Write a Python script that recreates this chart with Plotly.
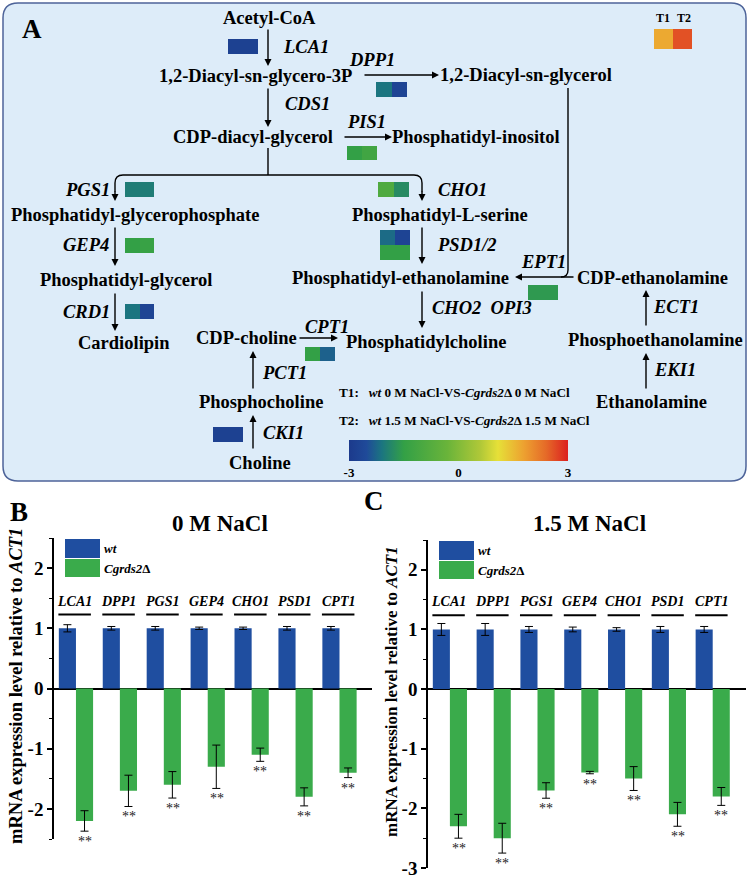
import plotly.graph_objects as go

W, H = 750, 879
FONT = "Liberation Serif"

# ---------------- data ----------------
genes = ["LCA1", "DPP1", "PGS1", "GEP4", "CHO1", "PSD1", "CPT1"]
b_wt = [1.0, 1.0, 1.0, 1.0, 1.0, 1.0, 1.0]
b_wt_err = [0.06, 0.03, 0.03, 0.02, 0.02, 0.03, 0.03]
b_mut = [-2.2, -1.7, -1.6, -1.3, -1.1, -1.8, -1.4]
b_mut_err = [0.17, 0.26, 0.22, 0.36, 0.11, 0.15, 0.08]
c_wt = [1.0, 1.0, 1.0, 1.0, 1.0, 1.0, 1.0]
c_wt_err = [0.1, 0.1, 0.05, 0.04, 0.03, 0.05, 0.05]
c_mut = [-2.3, -2.5, -1.7, -1.4, -1.5, -2.1, -1.8]
c_mut_err = [0.2, 0.25, 0.13, 0.02, 0.2, 0.2, 0.15]

heat_genes = ["LCA1", "DPP1", "PIS1", "PGS1", "CHO1", "GEP4", "CRD1",
              "PSD1", "PSD2", "CPT1", "CKI1", "EPT1"]
heat_t1 = [-2.8, -2.1, -1.5, -2.0, -0.9, -1.5, -2.1, -2.2, -1.5, -1.5, -2.8, -1.6]
heat_t2 = [-2.8, -2.7, -1.2, -2.0, -1.8, -1.4, -2.7, -2.7, -1.5, -2.3, -2.8, -1.6]
legend_t = [1.7, 2.6]
cbar_ticks = [-3, 0, 3]
yticks_b = [-2, -1, 0, 1, 2]
yticks_c = [-3, -2, -1, 0, 1, 2]

colorscale = [
    [0.0, "#1c3a8c"], [0.08, "#1f4a99"], [0.15, "#1b7580"], [0.25, "#33a046"],
    [0.45, "#6ab43a"], [0.6, "#b0c838"], [0.68, "#e6e038"], [0.8, "#eda030"],
    [0.9, "#e56a28"], [1.0, "#dc2020"],
]

WT_COLOR = "#1f4ea0"
MUT_COLOR = "#3aab4b"

fig = go.Figure()

# ---------------- bar panels ----------------
def add_bars(xa, ya, wt, wte, mut, mute):
    fig.add_trace(go.Bar(x=genes, y=wt, name="wt", marker_color=WT_COLOR,
                         marker_line_width=0, xaxis=xa, yaxis=ya, showlegend=False,
                         error_y=dict(type="data", array=wte, color="black",
                                      thickness=1, width=4)))
    fig.add_trace(go.Bar(x=genes, y=mut, name="Cgrds2Δ", marker_color=MUT_COLOR,
                         marker_line_width=0, xaxis=xa, yaxis=ya, showlegend=False,
                         error_y=dict(type="data", array=mute, color="black",
                                      thickness=1, width=4)))

add_bars("x", "y", b_wt, b_wt_err, b_mut, b_mut_err)
add_bars("x2", "y2", c_wt, c_wt_err, c_mut, c_mut_err)

# ---------------- heatmap cells (panel A) ----------------
cell_pos = {  # left, top, width, height (pixels)
    "LCA1": (228, 39, 30, 15), "DPP1": (376, 82, 31, 15), "PIS1": (347, 146, 30, 14),
    "PGS1": (125, 182, 29, 15), "CHO1": (378, 182, 31, 15), "GEP4": (125, 238, 29, 15),
    "CRD1": (125, 304, 29, 15), "PSD1": (380, 230, 30, 15), "PSD2": (380, 245, 30, 15),
    "CPT1": (305, 347, 30, 14), "CKI1": (213, 427, 30, 15), "EPT1": (528, 285, 30, 15),
}
for g, t1, t2 in zip(heat_genes, heat_t1, heat_t2):
    l, t, w, h = cell_pos[g]
    fig.add_trace(go.Heatmap(z=[[t1, t2]], x=[l, l + w / 2, l + w], y=[t, t + h],
                             coloraxis="coloraxis", xaxis="x3", yaxis="y3",
                             hoverinfo="skip"))
fig.add_trace(go.Heatmap(z=[legend_t], x=[654, 673, 692], y=[29, 49],
                         coloraxis="coloraxis", xaxis="x3", yaxis="y3", hoverinfo="skip"))

shapes = []
ann = []

# panel A rounded box
shapes.append(dict(type="path", xref="x3", yref="y3", layer="below",
                   path="M 18,3 L 731,3 Q 746,3 746,18 L 746,466 Q 746,481 731,481 "
                        "L 18,481 Q 3,481 3,466 L 3,18 Q 3,3 18,3 Z",
                   fillcolor="#ddecf9", line=dict(color="#4d6399", width=1.5)))

def txt(s, x, y, size=18.5, italic=False, anchor="center", **kw):
    s = f"<i>{s}</i>" if italic else s
    ann.append(dict(text=f"<b>{s}</b>", x=x, y=y, xref="x3", yref="y3", showarrow=False,
                    xanchor=anchor, yanchor="middle", borderpad=0,
                    font=dict(family=FONT, size=size, color="black"), **kw))

nodes = [
    ("Acetyl-CoA", 269, 18), ("1,2-Diacyl-sn-glycero-3P", 255, 76),
    ("CDP-diacyl-glycerol", 253, 137), ("1,2-Diacyl-sn-glycerol", 526, 75),
    ("Phosphatidyl-inositol", 476, 137), ("Phosphatidyl-glycerophosphate", 135, 215),
    ("Phosphatidyl-L-serine", 440, 215), ("Phosphatidyl-glycerol", 126, 280),
    ("Phosphatidyl-ethanolamine", 400, 278), ("CDP-ethanolamine", 652, 278),
    ("Cardiolipin", 124, 343), ("CDP-choline", 246, 338),
    ("Phosphatidylcholine", 426, 342), ("Phosphoethanolamine", 655, 340),
    ("Phosphocholine", 261, 402), ("Ethanolamine", 651, 402), ("Choline", 260, 463),
]
for s, x, y in nodes:
    txt(s, x, y)

gene_lbls = [
    ("LCA1", 306, 47), ("DPP1", 372, 60), ("CDS1", 307, 104), ("PIS1", 366, 122),
    ("PGS1", 87, 190), ("CHO1", 462, 190), ("GEP4", 86, 245), ("CRD1", 86, 312),
    ("PSD1/2", 467, 245), ("EPT1", 543, 262), ("CHO2\u00a0\u00a0OPI3", 482, 308),
    ("ECT1", 676, 307), ("EKI1", 675, 370), ("CPT1", 327, 327), ("PCT1", 284, 373),
    ("CKI1", 283, 433),
]
for s, x, y in gene_lbls:
    txt(s, x, y, italic=True)

txt("A", 32, 29, size=27)
txt("T1", 663, 18, size=12)
txt("T2", 684, 18, size=12)
txt("T1:\u00a0\u00a0\u00a0<i>wt</i> 0 M NaCl-VS-<i>Cgrds2</i>Δ 0 M NaCl", 338, 392,
    size=13.2, anchor="left")
txt("T2:\u00a0\u00a0\u00a0<i>wt</i> 1.5 M NaCl-VS-<i>Cgrds2</i>Δ 1.5 M NaCl", 338, 420,
    size=13.2, anchor="left")

def arrow(x0, y0, x1, y1):
    ann.append(dict(text="", x=x1, y=y1, ax=x0, ay=y0, xref="x3", yref="y3",
                    axref="x3", ayref="y3", showarrow=True, arrowhead=2,
                    arrowsize=1, arrowwidth=1.4, arrowcolor="black", standoff=0))

def line_path(p):
    shapes.append(dict(type="path", xref="x3", yref="y3", path=p,
                       line=dict(color="black", width=1.4)))

arrow(268, 28, 268, 66)
arrow(268, 87, 268, 127)
arrow(363, 75, 439, 75)
arrow(343, 137, 392, 137)
line_path("M 268,148 L 268,175")
line_path("M 115,192 L 115,183 Q 115,175 123,175 L 414,175 Q 422,175 422,183 L 422,192")
arrow(115, 190, 115, 201)
arrow(422, 190, 422, 201)
arrow(115, 226, 115, 266)
arrow(115, 292, 115, 331)
arrow(422, 226, 422, 264)
arrow(422, 290, 422, 328)
line_path("M 568,88 L 568,270 Q 568,277 561,277")
arrow(575, 277, 515, 277)
arrow(646, 327, 646, 290)
arrow(646, 390, 646, 353)
arrow(298, 338, 338, 338)
arrow(253, 390, 253, 351)
arrow(253, 450, 253, 415)

# ---------------- bar panel decorations ----------------
def panel_deco(xref, yref, letter, lx, ly, title, tx, ty, legx, legy, mut, mute,
               lbl_y, line_y, ytitle_x, ytitle_y, ytitle_size):
    txt(letter, lx, ly, size=27)
    txt(title, tx, ty, size=23)
    shapes.append(dict(type="rect", xref="x3", yref="y3", x0=legx, x1=legx + 35,
                       y0=legy, y1=legy + 19, fillcolor=WT_COLOR, line=dict(width=0)))
    shapes.append(dict(type="rect", xref="x3", yref="y3", x0=legx, x1=legx + 35,
                       y0=legy + 20, y1=legy + 38, fillcolor=MUT_COLOR, line=dict(width=0)))
    txt("wt", legx + 38, legy + 9, size=13, italic=True, anchor="left")
    txt("<i>Cgrds2</i>Δ", legx + 38, legy + 29, size=13, anchor="left")
    ann.append(dict(text="<b>mRNA expression level relative to <i>ACT1</i></b>",
                    x=ytitle_x, y=ytitle_y, xref="x3", yref="y3", showarrow=False,
                    textangle=-90, font=dict(family=FONT, size=ytitle_size, color="black")))
    for i, g in enumerate(genes):
        ann.append(dict(text=f"<b><i>{g}</i></b>", x=i - 0.03, y=lbl_y, xref=xref,
                        yref=yref, showarrow=False,
                        font=dict(family=FONT, size=14, color="black")))
        shapes.append(dict(type="line", xref=xref, yref=yref, x0=i - 0.4, x1=i + 0.34,
                           y0=line_y, y1=line_y, line=dict(color="black", width=2)))
        ann.append(dict(text="**", x=i + 0.2, y=mut[i] - mute[i], xref=xref, yref=yref,
                        showarrow=False, yanchor="top", yshift=-1,
                        font=dict(family=FONT, size=14, color="#222")))

panel_deco("x", "y", "B", 19, 512, "0 M NaCl", 220, 523, 65, 539, b_mut, b_mut_err,
           1.45, 1.23, 16, 686, 18.5)
panel_deco("x2", "y2", "C", 374, 501, "1.5 M NaCl", 589, 523, 439, 541, c_mut, c_mut_err,
           1.47, 1.24, 391, 692, 17)

def xd(a, b):
    return [a / W, b / W]

def yd(top, bottom):
    return [1 - bottom / H, 1 - top / H]

tickfont = dict(family=FONT, size=19, color="black")
yax_common = dict(showline=True, linecolor="black", linewidth=1.5, ticks="outside",
                  ticklen=5, tickwidth=1.5, tickcolor="black", tickfont=tickfont,
                  zeroline=True, zerolinecolor="black", zerolinewidth=1.5,
                  showgrid=False, automargin=False,
                  minor=dict(dtick=0.5, ticks="outside", ticklen=3, tickwidth=1,
                             tickcolor="black", showgrid=False))
xax_common = dict(showticklabels=False, showline=False, ticks="", showgrid=False,
                  zeroline=False, type="category", automargin=False)

fig.update_layout(
    width=W, height=H, autosize=False,
    margin=dict(l=0, r=0, t=0, b=0, pad=0, autoexpand=False),
    paper_bgcolor="white", plot_bgcolor="rgba(0,0,0,0)",
    barmode="group", bargap=0.22, bargroupgap=0,
    font=dict(family=FONT, color="black"),
    xaxis=dict(domain=xd(54, 372), range=[-0.5, 6.74], anchor="y", **xax_common),
    yaxis=dict(domain=yd(538, 839), range=[-2.5, 2.5], anchor="x",
               tickvals=yticks_b, ticktext=[f"<b>{v}</b>" for v in yticks_b], **yax_common),
    xaxis2=dict(domain=xd(428, 746), range=[-0.5, 6.76], anchor="y2", **xax_common),
    yaxis2=dict(domain=yd(540, 868), range=[-3, 2.5], anchor="x2",
                tickvals=yticks_c, ticktext=[f"<b>{v}</b>" for v in yticks_c], **yax_common),
    xaxis3=dict(domain=[0, 1], range=[0, W], visible=False, anchor="y3", automargin=False),
    yaxis3=dict(domain=[0, 1], range=[H, 0], visible=False, anchor="x3", automargin=False),
    coloraxis=dict(cmin=-3, cmax=3, colorscale=colorscale,
                   colorbar=dict(orientation="h", x=458.5 / W, xanchor="center",
                                 y=1 - 440 / H, yanchor="top", len=219, lenmode="pixels",
                                 thickness=21, thicknessmode="pixels",
                                 tickvals=cbar_ticks,
                                 ticktext=[f"<b>{v}</b>" for v in cbar_ticks],
                                 tickfont=dict(family=FONT, size=13, color="black"),
                                 ticks="", outlinewidth=0, xpad=0, ypad=0,
                                 bgcolor="rgba(0,0,0,0)")),
    shapes=shapes, annotations=ann,
)

fig.write_html("out.html", config={"displayModeBar": False},
               post_script="document.body.style.margin='0';")
